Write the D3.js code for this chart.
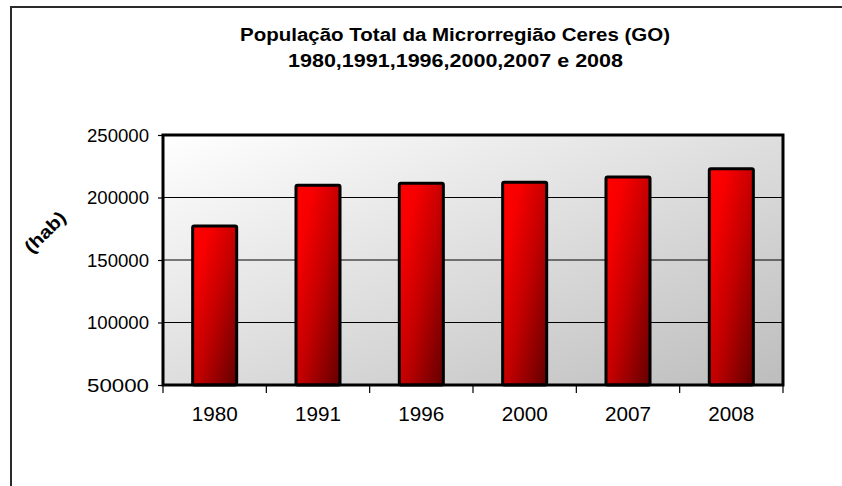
<!DOCTYPE html>
<html><head><meta charset="utf-8">
<script src="https://cdn.jsdelivr.net/npm/d3@7"></script>
<style>body{margin:0;background:#fff}svg{display:block;font-family:"Liberation Sans",Arial,sans-serif}</style>
</head><body>
<svg id="c" width="842" height="486"></svg>
<script>
const years = ["1980","1991","1996","2000","2007","2008"];
const population = [177200, 209800, 211400, 212300, 216400, 223000];
const yTicks = [50000, 100000, 150000, 200000, 250000];
const titleLines = ["População Total da Microrregião Ceres (GO)", "1980,1991,1996,2000,2007 e 2008"];
const yLabel = "(hab)";

const svg = d3.select("#c");
const L = 163, R = 783, T = 135, B = 385;

const defs = svg.append("defs");
const bg = defs.append("linearGradient").attr("id","bg").attr("x1","0").attr("y1","0").attr("x2","1").attr("y2","1");
bg.append("stop").attr("offset","0").attr("stop-color","#ffffff");
bg.append("stop").attr("offset","1").attr("stop-color","#bdbdbd");
const bar = defs.append("linearGradient").attr("id","bar").attr("x1","0").attr("y1","0").attr("x2","1").attr("y2","1");
bar.append("stop").attr("offset","0").attr("stop-color","#ff0000");
bar.append("stop").attr("offset","0.2").attr("stop-color","#f80000");
bar.append("stop").attr("offset","0.55").attr("stop-color","#c00000");
bar.append("stop").attr("offset","1").attr("stop-color","#620000");

// outer frame
svg.append("rect").attr("x",11).attr("y",7).attr("width",900).attr("height",600)
  .attr("fill","none").attr("stroke","#2a2a2a").attr("stroke-width",2);

// title
svg.append("text").attr("x",455).attr("y",41).attr("text-anchor","middle")
  .attr("font-size",18).attr("font-weight","bold").attr("textLength",430).attr("lengthAdjust","spacingAndGlyphs").text(titleLines[0]);
svg.append("text").attr("x",455.5).attr("y",67).attr("text-anchor","middle")
  .attr("font-size",18).attr("font-weight","bold").attr("textLength",335).attr("lengthAdjust","spacingAndGlyphs").text(titleLines[1]);

const x = d3.scaleBand().domain(years).range([L,R]).paddingInner(0.574).paddingOuter(0.287);
const y = d3.scaleLinear().domain([50000,250000]).range([B,T]);

// plot background
svg.append("rect").attr("x",L).attr("y",T).attr("width",R-L).attr("height",B-T).attr("fill","url(#bg)");

// gridlines
svg.append("g").selectAll("line").data(yTicks.slice(1,-1)).join("line")
  .attr("x1",L).attr("x2",R).attr("y1",d=>y(d)).attr("y2",d=>y(d))
  .attr("stroke","#000").attr("stroke-width",1.2);

// bars
svg.append("g").selectAll("rect").data(years).join("rect")
  .attr("x",d=>x(d)).attr("width",x.bandwidth())
  .attr("y",(d,i)=>y(population[i])).attr("height",(d,i)=>B-y(population[i]))
  .attr("fill","url(#bar)").attr("stroke","#000").attr("stroke-width",3).attr("rx",1.5);

// plot border
svg.append("rect").attr("x",L).attr("y",T).attr("width",R-L).attr("height",B-T)
  .attr("fill","none").attr("stroke","#000").attr("stroke-width",3);

// y axis
const ya = svg.append("g").attr("transform",`translate(${L},0)`)
  .call(d3.axisLeft(y).tickValues(yTicks).tickSize(5).tickPadding(9).tickFormat(d3.format("d")));
ya.select(".domain").remove();
ya.selectAll("line").attr("stroke","#000").attr("stroke-width",1.2);
ya.selectAll("text").attr("font-size",17.5).attr("fill","#000").attr("font-family","Liberation Sans, Arial, sans-serif")
  .attr("textLength",62).attr("lengthAdjust","spacingAndGlyphs").attr("dy","0.36em");

// x axis ticks at band boundaries
const step = x.step();
svg.append("g").selectAll("line").data(d3.range(years.length+1)).join("line")
  .attr("x1",i=>L+i*step).attr("x2",i=>L+i*step).attr("y1",B).attr("y2",B+8)
  .attr("stroke","#000").attr("stroke-width",1.2);
svg.append("g").selectAll("text").data(years).join("text")
  .attr("x",d=>x(d)+x.bandwidth()/2).attr("y",421).attr("text-anchor","middle")
  .attr("font-size",19.5).attr("textLength",46).attr("lengthAdjust","spacingAndGlyphs").text(d=>d);

// y label
svg.append("text").attr("transform","translate(45,232) rotate(-45)").attr("text-anchor","middle")
  .attr("dy","0.35em").attr("font-size",18).attr("font-weight","bold").attr("textLength",50).attr("lengthAdjust","spacingAndGlyphs").text(yLabel);
</script>
</body></html>
